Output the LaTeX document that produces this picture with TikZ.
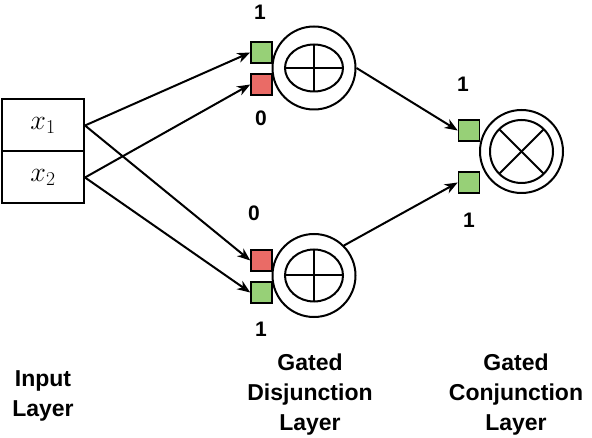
\RequirePackage{fix-cm}
\documentclass[tikz,border=0pt]{standalone}
\usepackage{fontspec}
\setsansfont{Liberation Sans}
\usetikzlibrary{arrows.meta}
\definecolor{gfill}{HTML}{97D077}
\definecolor{rfill}{HTML}{EA6B66}
\begin{document}
\begin{tikzpicture}[x=1pt,y=-1pt, line width=2pt,
  gate/.style={draw, minimum size=21pt, inner sep=0pt, line width=1.5pt},
  ring/.style={draw, circle, minimum size=83pt, inner sep=0pt},
  cell/.style={draw, minimum width=82pt, minimum height=52pt, inner sep=0pt, font=\fontsize{28}{32}\selectfont},
  num/.style={font=\sffamily\bfseries\fontsize{21}{25}\selectfont, inner sep=0pt},
  lab/.style={font=\sffamily\bfseries\fontsize{23}{30}\selectfont, align=center, inner sep=0pt, anchor=north},
  arr/.style={-{Stealth[length=13pt,width=10pt,inset=4pt,fill=white]}, line width=2pt}
]
\useasboundingbox (0,0) rectangle (592,438);
% input layer
\node[cell] (x1) at (43,125.5) {$x_1$};
\node[cell] (x2) at (43,177.5) {$x_2$};
% gates
\node[gate, fill=gfill] (g1) at (261.5,52.5) {};
\node[gate, fill=rfill] (r1) at (261.5,84.5) {};
\node[gate, fill=rfill] (r2) at (261.5,260.5) {};
\node[gate, fill=gfill] (g2) at (261.5,292.5) {};
\node[gate, fill=gfill] (c1) at (469,130.5) {};
\node[gate, fill=gfill] (c2) at (469,182.5) {};
% rings
\node[ring] (d1) at (314,68) {};
\node[ring] (d2) at (314,275.5) {};
\node[ring] (cj) at (521.5,151.5) {};
% inner symbols
\draw (d1.center) ellipse [x radius=29, y radius=23.5];
\draw ([xshift=-29pt]d1.center) -- ([xshift=29pt]d1.center);
\draw ([yshift=-23.5pt]d1.center) -- ([yshift=23.5pt]d1.center);
\draw (d2.center) ellipse [x radius=29, y radius=26];
\draw ([xshift=-29pt]d2.center) -- ([xshift=29pt]d2.center);
\draw ([yshift=-26pt]d2.center) -- ([yshift=26pt]d2.center);
\draw (cj.center) circle [radius=31.5];
\draw ([shift={(-22.3pt,-22.3pt)}]cj.center) -- ([shift={(22.3pt,22.3pt)}]cj.center);
\draw ([shift={(-22.3pt,22.3pt)}]cj.center) -- ([shift={(22.3pt,-22.3pt)}]cj.center);
% connectors
\draw[arr] (x1.east) -- (g1.west);
\draw[arr] (x1.east) -- (r2.west);
\draw[arr] (x2.east) -- (r1.west);
\draw[arr] (x2.east) -- (g2.west);
\draw[arr] (d1.east) -- (c1.west);
\draw[arr] (d2.north east) -- (c2.west);
% numbers
\node[num] (n1) at (260,12.5) {1};
\node[num] (n2) at (261,118.5) {0};
\node[num] (n3) at (254,213.5) {0};
\node[num] (n4) at (261,329.5) {1};
\node[num] (n5) at (463,84.5) {1};
\node[num] (n6) at (469,220.5) {1};
% layer labels
\node[lab] (l1) at (43,370) {Input\\Layer};
\node[lab] (l2) at (310,353) {Gated\\Disjunction\\Layer};
\node[lab] (l3) at (516,353) {Gated\\Conjunction\\Layer};
\end{tikzpicture}
\end{document}
